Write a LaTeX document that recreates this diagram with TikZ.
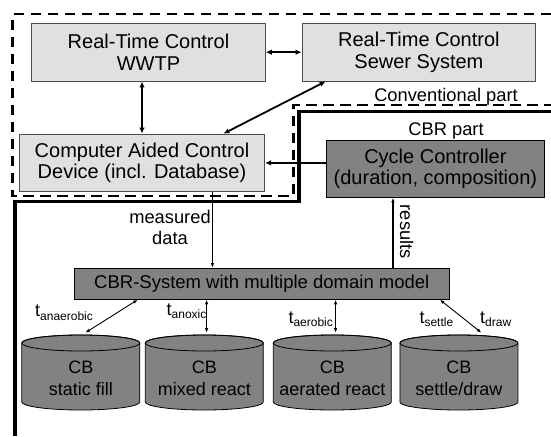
\documentclass[tikz,border=0pt]{standalone}
\usepackage{fontspec}
\setmainfont{Liberation Sans}
\usetikzlibrary{arrows.meta,calc}
\definecolor{lightbox}{RGB}{224,224,224}
\definecolor{darkbox}{RGB}{130,130,130}
\newcommand{\tlab}[1]{t\raisebox{-3.5pt}{\fontsize{12}{12}\selectfont #1}}
\begin{document}
\begin{tikzpicture}[x=1pt,y=1pt,
  lbox/.style={draw=black!70, fill=lightbox, line width=0.8, align=center,
    font=\fontsize{20}{21.5}\selectfont, inner sep=0},
  dbox/.style={draw=black, fill=darkbox, line width=0.8, align=center,
    font=\fontsize{20}{21.5}\selectfont, inner sep=0},
  lbl/.style={font=\fontsize{18.3}{21}\selectfont, inner sep=0, align=center},
  tlbl/.style={font=\fontsize{18}{18}\selectfont, inner sep=0, anchor=base west},
  thickarr/.style={line width=1.8, -{Latex[length=6,width=5.5]}},
  thickbi/.style={line width=1.8, {Latex[length=6,width=5.5]}-{Latex[length=6,width=5.5]}},
  thinarr/.style={line width=0.9, -{Latex[length=4.5,width=3.5]}},
  thinbi/.style={line width=0.9, {Latex[length=4.5,width=3.5]}-{Latex[length=4.5,width=3.5]}},
  convframe/.style={line width=2.8, dash pattern=on 10.5 off 6.5},
  cbrframe/.style={line width=3.4},
  cyl/.style={draw=black, fill=darkbox, line width=0.8}
]
\useasboundingbox[fill=white] (0,0) rectangle (551,-436);

% frames
\draw[convframe] (551,-14) -- (12.6,-14) -- (12.6,-196) -- (293.5,-196) -- (293.5,-105) -- (551,-105);
\draw[cbrframe] (551,-111.5) -- (299,-111.5) -- (299,-201.5) -- (15,-201.5) -- (15,-436);

\node[lbl, anchor=base] (conv) at (446,-101) {Conventional part};
\node[lbl, anchor=base] (cbrpart) at (446,-135) {CBR part};

% boxes
\node[lbox, minimum width=233.7, minimum height=57.7] (wwtp) at (148.5,-52.2) {Real-Time Control\\WWTP};
\node[lbox, minimum width=233.8, minimum height=57.7] (sewer) at (418.9,-52.2) {Real-Time Control\\Sewer System};
\node[lbox, minimum width=245.3, minimum height=57.7] (cac) at (142,-162.9) {Computer Aided Control\\Device (incl. Database)};
\node[dbox, minimum width=217.2, minimum height=57.3] (cycle) at (435.4,-168.7) {Cycle Controller\\(duration, composition)};
\node[dbox, minimum width=374.5, minimum height=31.3, font=\fontsize{18.5}{20}\selectfont] (cbr) at (261.8,-283.7) {CBR-System with multiple domain model};

% cylinders
\foreach \cx/\nm/\txt in {80.8/cb1/{CB\\static fill}, 204.3/cb2/{CB\\mixed react}, 332.3/cb3/{CB\\aerated react}, 458.9/cb4/{CB\\settle/draw}}{
  \path[cyl] (\cx-59,-343) -- (\cx-59,-402) arc[start angle=180, end angle=360, x radius=59, y radius=8]
     -- (\cx+59,-343) arc[start angle=0, end angle=180, x radius=59, y radius=8] -- cycle;
  \draw[line width=0.8] (\cx,-343) ellipse[x radius=59, y radius=8];
  \node[lbl, font=\fontsize{18}{22}\selectfont] (\nm) at (\cx,-378.5) {\txt};
}
\coordinate (c1top) at (85.4,-332.7);
\coordinate (c2top) at (206.6,-332.7);
\coordinate (c3top) at (335.6,-332.7);
\coordinate (c4top) at (481.4,-332.7);

% connectors
\draw[thickbi] (wwtp.east) -- (sewer.west);
\draw[thickbi] (wwtp.south -| cac.north) -- (cac.north);
\draw[thickbi] ($(sewer.south west)+(24,0)$) -- ($(cac.north east)+(-41.6,0)$);
\draw[thickarr] (cycle.west |- cac.east) -- (cac.east);
\draw[thinarr] ($(cac.south east)+(-52.6,0)$) coordinate (md) -- (md |- cbr.north);
\draw[thinarr, line width=1.2] ($(cbr.north west)+(318.8,0)$) coordinate (rs) -- (rs |- cycle.south);

\node[lbl] (meas) at (170,-227) {measured\\data};
\node[lbl, rotate=-90] (res) at (406.7,-231.7) {results};

\draw[thinbi] (c1top) -- ($(cbr.south west)+(63.5,0)$);
\draw[thinbi] (c2top) -- (c2top |- cbr.south);
\draw[thinbi] (c3top) -- (c3top |- cbr.south);
\draw[thinbi] (c4top) -- ($(cbr.south west)+(365.8,0)$);

\node[tlbl] (ta) at (35,-316.5) {\tlab{anaerobic}};
\node[tlbl] (tx) at (166.5,-315) {\tlab{anoxic}};
\node[tlbl] (tae) at (288.3,-323) {\tlab{aerobic}};
\node[tlbl] (ts) at (419.3,-323) {\tlab{settle}};
\node[tlbl] (td) at (480,-323) {\tlab{draw}};
\end{tikzpicture}
\end{document}
